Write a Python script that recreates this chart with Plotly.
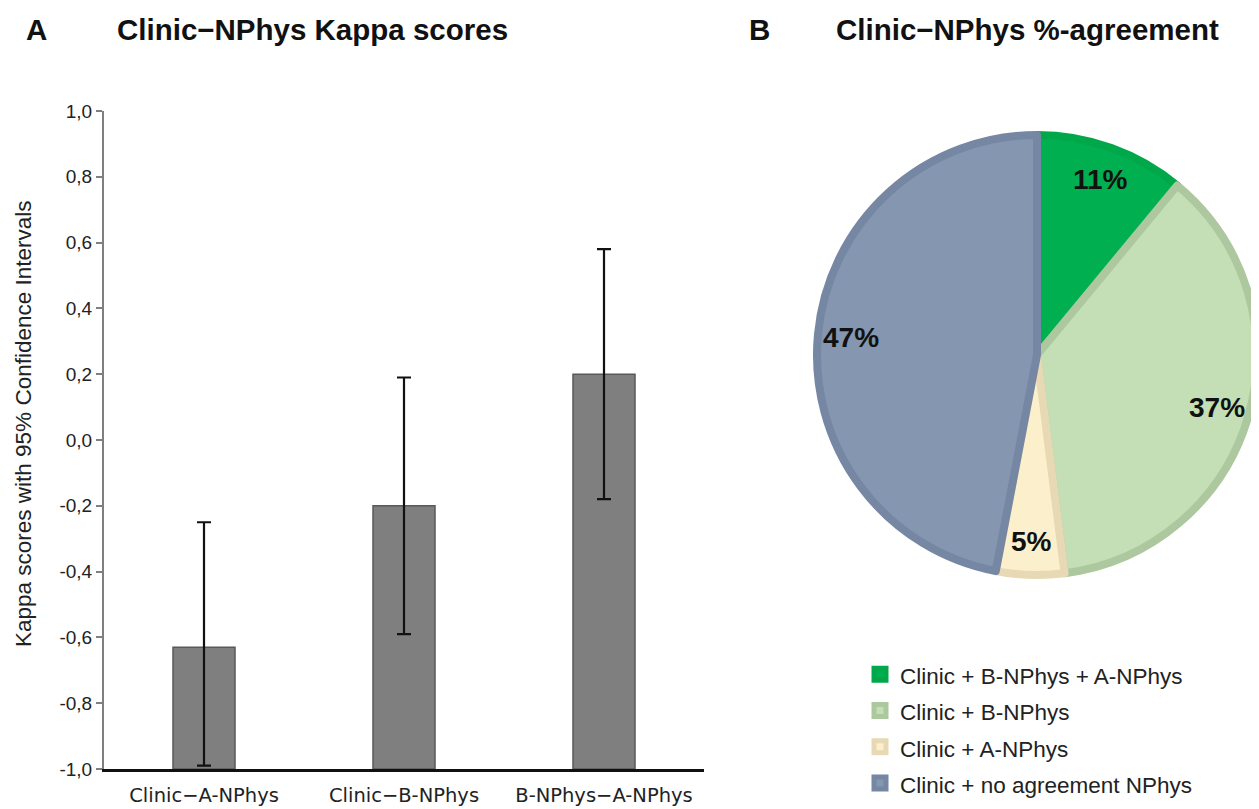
import math
import plotly.graph_objects as go

# ---------------- data ----------------
pairs = ["Clinic\u2212A-NPhys", "Clinic\u2212B-NPhys", "B-NPhys\u2212A-NPhys"]
kappa = [-0.63, -0.20, 0.20]
ci_low = [-0.99, -0.59, -0.18]
ci_high = [-0.25, 0.19, 0.58]
baseline = -1.0

y_ticks = [1.0, 0.8, 0.6, 0.4, 0.2, 0.0, -0.2, -0.4, -0.6, -0.8, -1.0]
y_ticktext = ["1,0", "0,8", "0,6", "0,4", "0,2", "0,0", "-0,2", "-0,4", "-0,6", "-0,8", "-1,0"]
y_title = "Kappa scores with 95% Confidence Intervals"

agree_labels = ["Clinic + B-NPhys + A-NPhys", "Clinic + B-NPhys", "Clinic + A-NPhys",
                "Clinic + no agreement NPhys"]
agree_pct = [11, 37, 5, 47]
agree_fill = ["#00b050", "#c4dfb5", "#fcefcb", "#8496b0"]
agree_edge = ["#00a84a", "#adc89e", "#e6d9b3", "#7587a2"]

FONT = "Arial, Liberation Sans, Helvetica, sans-serif"
W, H = 1259, 809
OFF = 8  # page body offset


def fx(x):
    return (x - OFF) / W


def fy(y):
    return 1 - (y - OFF) / H


fig = go.Figure()

fig.add_trace(go.Bar(
    x=pairs, y=[k - baseline for k in kappa], base=baseline,
    width=0.31,
    marker=dict(color="#7f7f7f", line=dict(color="#595959", width=1.5)),
    showlegend=False, xaxis="x", yaxis="y", hoverinfo="skip",
))
fig.add_trace(go.Scatter(
    x=pairs, y=kappa, mode="markers",
    marker=dict(size=1, opacity=0),
    error_y=dict(type="data", symmetric=False,
                 array=[h - k for h, k in zip(ci_high, kappa)],
                 arrayminus=[k - l for k, l in zip(kappa, ci_low)],
                 color="#111111", thickness=2.2, width=7),
    showlegend=False, xaxis="x", yaxis="y", hoverinfo="skip",
))

# pie geometry (reference-screen pixels)
cx, cy, R = 1037, 355, 220
fig.add_trace(go.Pie(
    labels=[f"<span style='font-size:22.5px'>{l}</span>" for l in agree_labels],
    values=agree_pct, sort=False,
    direction="clockwise", rotation=0,
    marker=dict(colors=agree_fill, line=dict(color=agree_edge, width=8)),
    textinfo="none", hoverinfo="skip",
    domain=dict(x=[fx(cx - R), fx(cx + R)], y=[fy(cy + R), fy(cy - R)]),
    showlegend=True,
))

# percentage labels placed along each slice's mid-angle
total = sum(agree_pct)
cum = 0
for v in agree_pct:
    theta = 2 * math.pi * (cum + v / 2) / total
    cum += v
    r = 0.85 * R
    px = cx + r * math.sin(theta)
    py = cy - r * math.cos(theta)
    fig.add_annotation(x=fx(px), y=fy(py), xref="paper", yref="paper",
                       xanchor="center", yanchor="middle",
                       text=f"{v}%", showarrow=False,
                       font=dict(family=FONT, size=28, color="#111111", weight="bold"))

# panel titles
for txt, x in [("A", 27), ("Clinic\u2212NPhys Kappa scores", 118),
               ("B", 750), ("Clinic\u2212NPhys %-agreement", 837)]:
    fig.add_annotation(x=fx(x - 3), y=fy(30), xref="paper", yref="paper",
                       xanchor="left", yanchor="middle", text=txt, showarrow=False,
                       font=dict(family=FONT, size=29.5, color="#111111", weight="bold"))

# y-axis title
fig.add_annotation(x=fx(23), y=fy(424), xref="paper", yref="paper",
                   xanchor="center", yanchor="middle", textangle=-90,
                   text=y_title, showarrow=False,
                   font=dict(family=FONT, size=22.5, color="#222222"))

fig.update_layout(
    width=W, height=H,
    margin=dict(l=0, r=0, t=0, b=0, autoexpand=False),
    paper_bgcolor="white", plot_bgcolor="white",
    font=dict(family=FONT, color="#222222"),
    xaxis=dict(
        domain=[fx(104), fx(704)], type="category",
        showline=True, linecolor="#111111", linewidth=2.5,
        ticks="", showgrid=False, zeroline=False,
        tickfont=dict(family="DejaVu Sans, Verdana, sans-serif", size=19.5, color="#222222"),
        ticklabelstandoff=7,
        anchor="y",
    ),
    yaxis=dict(
        domain=[fy(769), fy(111)],
        range=[-1.0, 1.0],
        tickvals=y_ticks, ticktext=y_ticktext,
        showline=True, linecolor="#7f7f7f", linewidth=2,
        ticks="outside", ticklen=6, tickcolor="#7f7f7f", tickwidth=1.5,
        showgrid=False, zeroline=False,
        tickfont=dict(size=19, color="#222222"),
        anchor="x",
    ),
    legend=dict(
        x=fx(900 - 40), y=fy(651), xanchor="left", yanchor="top",
        font=dict(family=FONT, size=25.6, color="#222222"),
        bgcolor="rgba(0,0,0,0)", tracegroupgap=0,
    ),
)

fig.write_html("out.html")
